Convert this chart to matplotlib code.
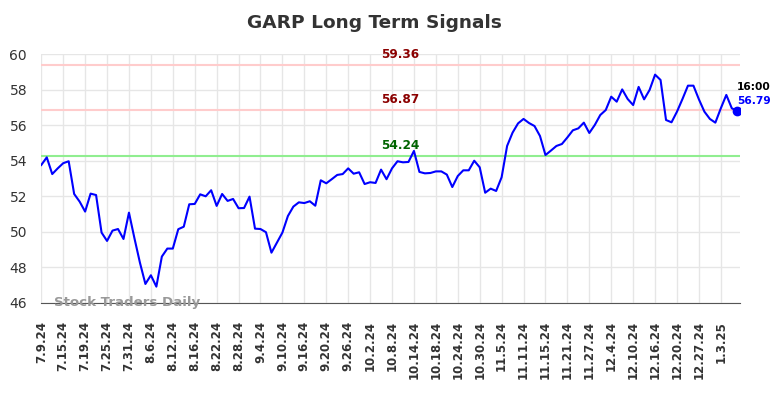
import numpy as np
import matplotlib
matplotlib.use('Agg')
import matplotlib.pyplot as plt

# tick labels, one every 4 trading days
tick_labels = ['7.9.24', '7.15.24', '7.19.24', '7.25.24', '7.31.24', '8.6.24',
               '8.12.24', '8.16.24', '8.22.24', '8.28.24', '9.4.24', '9.10.24',
               '9.16.24', '9.20.24', '9.26.24', '10.2.24', '10.8.24', '10.14.24',
               '10.18.24', '10.24.24', '10.30.24', '11.5.24', '11.11.24',
               '11.15.24', '11.21.24', '11.27.24', '12.4.24', '12.10.24',
               '12.16.24', '12.20.24', '12.27.24', '1.3.25']

# closing prices, one per trading day
prices = [53.76, 54.19, 53.25, 53.57, 53.86, 53.97, 52.13, 51.70, 51.14, 52.15,
          52.07, 49.96, 49.49, 50.07, 50.16, 49.60, 51.08, 49.64, 48.27, 47.07,
          47.56, 46.92, 48.61, 49.06, 49.06, 50.15, 50.29, 51.55, 51.57, 52.11,
          52.00, 52.34, 51.46, 52.13, 51.74, 51.85, 51.33, 51.34, 51.98, 50.18,
          50.16, 49.98, 48.83, 49.39, 49.96, 50.89, 51.42, 51.66, 51.62, 51.72,
          51.47, 52.90, 52.73, 52.96, 53.20, 53.25, 53.57, 53.27, 53.35, 52.69,
          52.79, 52.75, 53.50, 52.96, 53.57, 53.97, 53.91, 53.93, 54.55, 53.37,
          53.29, 53.31, 53.40, 53.40, 53.22, 52.52, 53.14, 53.46, 53.46, 54.00,
          53.63, 52.20, 52.43, 52.30, 53.07, 54.83, 55.58, 56.10, 56.35, 56.12,
          55.95, 55.39, 54.32, 54.57, 54.83, 54.94, 55.31, 55.71, 55.82, 56.14,
          55.56, 56.01, 56.57, 56.85, 57.60, 57.32, 58.01, 57.47, 57.13, 58.15,
          57.45, 57.98, 58.84, 58.54, 56.29, 56.16, 56.76, 57.47, 58.22, 58.22,
          57.45, 56.76, 56.35, 56.14, 56.95, 57.70, 56.95, 56.79]

# signal levels
resistance_levels = [59.36, 56.87]
support_level = 54.24
last_time = '16:00'

x = np.arange(len(prices))

fig = plt.figure(figsize=(7.84, 3.98), dpi=100)
ax = fig.add_axes([0.0523, 0.2387, 0.8916, 0.6256])

ax.grid(True, color='#e6e6e6', linewidth=1)
ax.set_axisbelow(True)

label_x = 65.5
for lvl in resistance_levels:
    ax.axhline(lvl, color='#ffcccc', linewidth=1.5, zorder=1)
    ax.annotate('%.2f' % lvl, (label_x, lvl), xytext=(0, 3),
                textcoords='offset points', ha='center', va='bottom',
                color='#8b0000', fontsize=8.7, fontweight='bold')
ax.axhline(support_level, color='#90ee90', linewidth=1.5, zorder=1)
ax.annotate('%.2f' % support_level, (label_x, support_level), xytext=(0, 3),
            textcoords='offset points', ha='center', va='bottom',
            color='#006400', fontsize=8.7, fontweight='bold')

ax.plot(x, prices, color='#0000ff', linewidth=1.5, zorder=3)
ax.plot(x[-1], prices[-1], 'o', color='#0000ff', markersize=6, zorder=4)

# last value label on the right
ax.annotate(last_time, (x[-1], prices[-1]), xytext=(0, 14),
            textcoords='offset points', ha='left', va='bottom',
            fontsize=7.7, fontweight='bold', color='black', annotation_clip=False)
ax.annotate('%.2f' % prices[-1], (x[-1], prices[-1]), xytext=(0, 4),
            textcoords='offset points', ha='left', va='bottom',
            fontsize=7.7, fontweight='bold', color='#0000ff', annotation_clip=False)

ax.text(0.018, 0.0, 'Stock Traders Daily', transform=ax.transAxes,
        fontsize=9.6, fontweight='bold', color='#999999', va='center', ha='left')

ax.set_xlim(-0.05, len(prices) - 0.5)
ax.set_ylim(46, 60)
ax.set_yticks(np.arange(46, 61, 2))
ax.set_xticks(x[::4])
ax.set_xticklabels(tick_labels, rotation=90, fontsize=8.5, fontweight='bold',
                   color='#333333')
ax.tick_params(axis='y', labelsize=10, colors='#333333', length=0, pad=10)
ax.tick_params(axis='x', length=0, pad=13)

for s in ['top', 'right', 'left']:
    ax.spines[s].set_visible(False)
ax.spines['bottom'].set_color('#555555')

fig.suptitle('GARP Long Term Signals', x=0.477, y=0.965, fontsize=13.3,
             fontweight='bold', color='#333333')

plt.savefig('out.png', dpi=100)
